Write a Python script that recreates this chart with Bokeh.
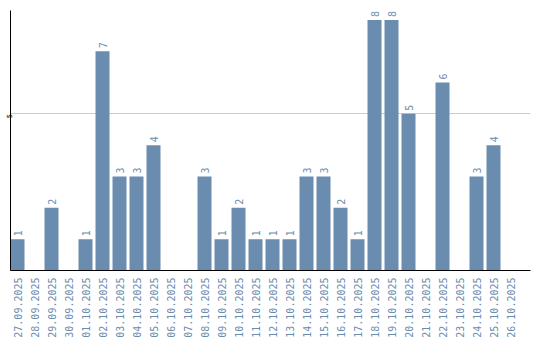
import math
from bokeh.plotting import figure
from bokeh.models import Range1d, FixedTicker, ColumnDataSource
from bokeh.core.properties import value
from bokeh.embed import file_html
from bokeh.resources import INLINE

dates = ["27.09.2025", "28.09.2025", "29.09.2025", "30.09.2025", "01.10.2025",
         "02.10.2025", "03.10.2025", "04.10.2025", "05.10.2025", "06.10.2025",
         "07.10.2025", "08.10.2025", "09.10.2025", "10.10.2025", "11.10.2025",
         "12.10.2025", "13.10.2025", "14.10.2025", "15.10.2025", "16.10.2025",
         "17.10.2025", "18.10.2025", "19.10.2025", "20.10.2025", "21.10.2025",
         "22.10.2025", "23.10.2025", "24.10.2025", "25.10.2025", "26.10.2025"]
counts = [1, 0, 2, 0, 1, 7, 3, 3, 4, 0, 0, 3, 1, 2, 1, 1, 1, 3, 3, 2, 1, 8, 8, 5, 0, 6, 0, 3, 4, 0]
y_ticks = [5]

BAR = "#6a8caf"

idx = list(range(len(dates)))
src_all = ColumnDataSource(dict(x=idx, top=counts))
nz = [i for i in idx if counts[i] > 0]
src_lbl = ColumnDataSource(dict(x=nz, y=[counts[i] for i in nz], t=[str(counts[i]) for i in nz]))

p = figure(width=540, height=340, output_backend="svg", toolbar_location=None,
           x_range=Range1d(-0.412, 30.176), y_range=Range1d(0, 8.3),
           min_border_left=10, min_border_top=10, min_border_right=10, min_border_bottom=0)
p.outline_line_color = None
p.background_fill_color = "white"

p.vbar(x="x", top="top", bottom=0, width=0.8235, color=BAR, line_color=None, source=src_all)
p.text(x="x", y="y", text="t", source=src_lbl, angle=math.pi / 2, text_align="left",
       text_baseline="middle", y_offset=-3, text_color=BAR, text_font_size="10px",
       text_font=value("DejaVu Sans Mono"))

xa = p.xaxis[0]
xa.ticker = FixedTicker(ticks=idx)
xa.major_label_overrides = {i: d for i, d in zip(idx, dates)}
xa.major_label_orientation = math.pi / 2
xa.major_label_text_font = "DejaVu Sans Mono"
xa.major_label_text_font_size = "10px"
xa.major_label_text_color = BAR
xa.major_label_standoff = 7
xa.major_tick_out = 0
xa.major_tick_in = 0
xa.minor_tick_out = 0
xa.minor_tick_in = 0
xa.major_tick_line_color = None
xa.minor_tick_line_color = None
xa.axis_line_color = "black"
xa.axis_line_width = 1

ya = p.yaxis[0]
ya.ticker = FixedTicker(ticks=y_ticks)
ya.major_label_orientation = math.pi / 2
ya.major_label_text_font = "DejaVu Sans"
ya.major_label_text_font_size = "7px"
ya.major_label_text_color = "black"
ya.major_label_standoff = 1
ya.major_tick_out = 0
ya.major_tick_in = 0
ya.minor_tick_out = 0
ya.minor_tick_in = 0
ya.major_tick_line_color = None
ya.minor_tick_line_color = None
ya.axis_line_color = "black"
ya.axis_line_width = 1

p.xgrid.grid_line_color = None
p.ygrid.ticker = FixedTicker(ticks=y_ticks)
p.ygrid.grid_line_color = "#cccccc"

open("out.html", "w").write(file_html(p, INLINE))
